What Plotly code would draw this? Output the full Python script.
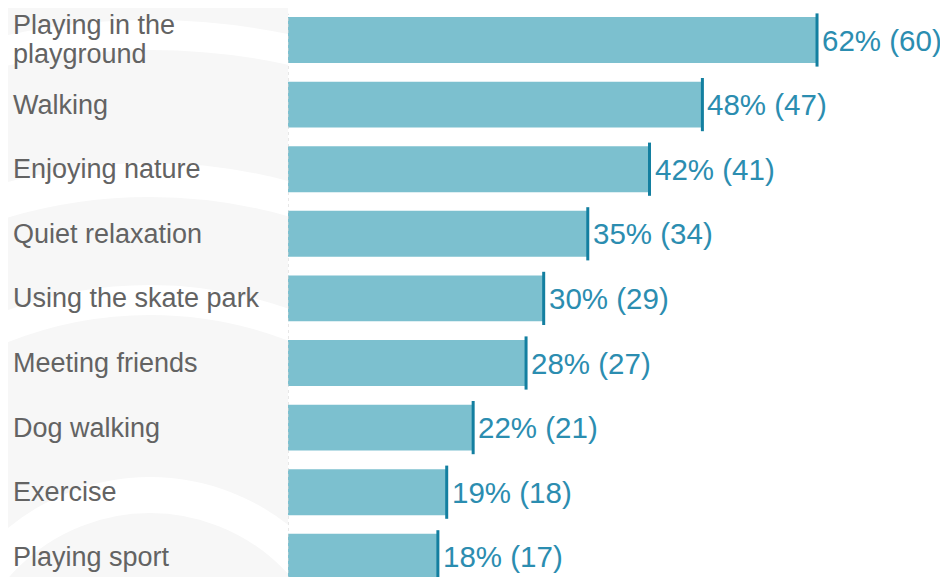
import plotly.graph_objects as go

categories = ["Playing in the<br>playground", "Walking", "Enjoying nature", "Quiet relaxation",
              "Using the skate park", "Meeting friends", "Dog walking", "Exercise", "Playing sport"]
percents = [62, 48, 42, 35, 30, 28, 22, 19, 18]
counts = [60, 47, 41, 34, 29, 27, 21, 18, 17]

labels = [f"{p}% ({c})" for p, c in zip(percents, counts)]
ypos = list(range(len(categories)))

BAR = "#7cc0cf"
DARK = "#137fa0"
TXT = "#2b8db0"
GRAY = "#636363"
WM = "#f7f7f7"
FONT = "Liberation Sans, Arial, sans-serif"

W, H = 948, 577
L = 280           # figure px where the bars start (page adds an 8px offset)
PW = W - L


fig = go.Figure()
fig.add_trace(go.Bar(
    x=counts, y=ypos, orientation="h", width=0.71,
    marker=dict(color=BAR, line=dict(width=0)),
    hoverinfo="skip", showlegend=False,
))
fig.add_trace(go.Scatter(
    x=counts, y=ypos, mode="markers",
    marker=dict(symbol="line-ns", size=38, line=dict(width=3, color=DARK), color=DARK),
    hoverinfo="skip", showlegend=False, cliponaxis=False,
))
# empty helper trace for the watermark area on the left
fig.add_trace(go.Scatter(x=[None], y=[None], xaxis="x2", yaxis="y2",
                         showlegend=False, hoverinfo="skip"))

annotations = []
for y, c, lab in zip(ypos, categories, labels):
    lines = c.split("<br>")
    shifts = [0] if len(lines) == 1 else [15, -14]
    for ln, sh in zip(lines, shifts):
        annotations.append(dict(
            x=3 / W, xref="paper", y=y, yref="y", yshift=sh, text=ln, showarrow=False,
            xanchor="left", yanchor="middle", align="left",
            font=dict(color=GRAY, size=27, family=FONT),
        ))
    annotations.append(dict(
        x=counts[y], xref="x", y=y, yref="y", text=lab, showarrow=False,
        xanchor="left", yanchor="middle", xshift=3,
        font=dict(color=TXT, size=29.5, family=FONT),
    ))

shapes = [dict(type="rect", xref="x2", yref="y2", x0=0, x1=L, y0=0, y1=H,
               fillcolor=WM, line=dict(width=0), layer="below")]
cx, cy = 142, 692   # watermark centre (figure px)
for r, w in [(665, 30), (520, 34), (400, 30), (205, 36)]:
    shapes.append(dict(type="circle", xref="x2", yref="y2",
                       x0=cx - r, x1=cx + r, y0=cy - r, y1=cy + r,
                       line=dict(color="white", width=w), layer="below"))
shapes.append(dict(type="line", xref="x", yref="paper", x0=0, x1=0, y0=0, y1=0.99,
                   line=dict(color="#cfcfcf", width=1, dash="dot"), layer="above"))

fig.update_layout(
    width=W, height=H,
    margin=dict(l=0, r=0, t=0, b=0),
    paper_bgcolor="white", plot_bgcolor="rgba(0,0,0,0)",
    xaxis=dict(domain=[L / W, 1], range=[0, PW / 8.817], visible=False),
    yaxis=dict(range=[(H - 32) / 64.6, -32 / 64.6], visible=False),
    xaxis2=dict(domain=[0, L / W], range=[0, L], visible=False, anchor="y2"),
    yaxis2=dict(domain=[0, 1], range=[H, 0], visible=False, anchor="x2"),
    annotations=annotations,
    shapes=shapes,
    font=dict(family=FONT),
)

fig.write_html("out.html")
